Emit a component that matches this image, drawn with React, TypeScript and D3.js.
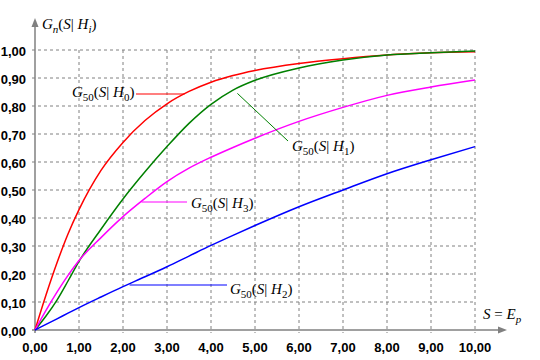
import React from "react";
import * as d3 from "d3";

const sValues = [0, 0.25, 0.5, 0.75, 1, 1.5, 2, 2.5, 3, 3.5, 4, 4.5, 5, 6, 7, 8, 9, 10];
const gH0 = [0, 0.125, 0.24, 0.343, 0.43, 0.57, 0.67, 0.748, 0.808, 0.852, 0.885, 0.909, 0.927, 0.952, 0.969, 0.982, 0.99, 0.994];
const gH1 = [0, 0.05, 0.107, 0.175, 0.245, 0.36, 0.468, 0.565, 0.655, 0.738, 0.806, 0.857, 0.892, 0.936, 0.964, 0.982, 0.99, 0.996];
const gH3 = [0, 0.07, 0.135, 0.195, 0.248, 0.33, 0.405, 0.47, 0.53, 0.578, 0.617, 0.652, 0.685, 0.745, 0.795, 0.838, 0.868, 0.893];
const gH2 = [0, 0.02, 0.04, 0.06, 0.08, 0.118, 0.155, 0.19, 0.226, 0.264, 0.302, 0.338, 0.373, 0.44, 0.5, 0.558, 0.608, 0.655];

const xTicks = [0, 1, 2, 3, 4, 5, 6, 7, 8, 9, 10];
const yTicks = [0, 0.1, 0.2, 0.3, 0.4, 0.5, 0.6, 0.7, 0.8, 0.9, 1.0];
const fmt = (v: number) => v.toFixed(2).replace(".", ",");

const series = [
  { name: "H0", sub: "0", values: gH0, color: "#ff0000" },
  { name: "H1", sub: "1", values: gH1, color: "#008000" },
  { name: "H3", sub: "3", values: gH3, color: "#ff00ff" },
  { name: "H2", sub: "2", values: gH2, color: "#0000ff" },
];

const x = d3.scaleLinear().domain([0, 10]).range([35, 475]);
const y = d3.scaleLinear().domain([0, 1]).range([330, 50]);

const serif = "'Liberation Serif', 'Times New Roman', serif";
const sans = "'Liberation Sans', Arial, sans-serif";

function Label({ lx, ly, sub }: { lx: number; ly: number; sub: string }) {
  return (
    <text x={lx} y={ly} fontFamily={serif} fontSize={15} fill="#000">
      <tspan fontStyle="italic">G</tspan>
      <tspan fontSize={11} dy={4}>50</tspan>
      <tspan dy={-4}>(</tspan>
      <tspan fontStyle="italic">S</tspan>
      <tspan>| </tspan>
      <tspan fontStyle="italic">H</tspan>
      <tspan fontSize={11} dy={4}>{sub}</tspan>
      <tspan dy={-4}>)</tspan>
    </text>
  );
}

export default function App() {
  const line = d3
    .line<number>()
    .x((_, i) => x(sValues[i]))
    .y((d) => y(d))
    .curve(d3.curveMonotoneX);

  const grey = "#808080";
  return (
    <svg width={540} height={360} style={{ position: "absolute", left: 0, top: 0, background: "#fff" }}>
      <rect width={540} height={360} fill="#fff" />
      {/* grid */}
      {xTicks.slice(1).map((t) => (
        <line key={"gx" + t} x1={x(t)} x2={x(t)} y1={y(1)} y2={333} stroke={grey} strokeDasharray="3,3" />
      ))}
      {yTicks.slice(1).map((t) => (
        <line key={"gy" + t} x1={32} x2={x(10)} y1={y(t)} y2={y(t)} stroke={grey} strokeDasharray="3,3" />
      ))}
      {/* axes */}
      <line x1={x(0)} x2={x(0)} y1={333} y2={24} stroke={grey} strokeWidth={1.5} />
      <path d={`M${x(0)},18 L${x(0) - 3.5},27 L${x(0) + 3.5},27 Z`} fill={grey} />
      <line x1={32} x2={500} y1={y(0)} y2={y(0)} stroke={grey} strokeWidth={1.5} />
      <path d={`M507,${y(0)} L498,${y(0) - 3.5} L498,${y(0) + 3.5} Z`} fill={grey} />
      {/* tick labels */}
      {yTicks.map((t) => (
        <text key={"ty" + t} x={26} y={y(t) + 6} textAnchor="end" fontFamily={sans} fontWeight="bold" fontSize={13}>
          {fmt(t)}
        </text>
      ))}
      {xTicks.map((t) => (
        <text key={"tx" + t} x={x(t)} y={352} textAnchor="middle" fontFamily={sans} fontWeight="bold" fontSize={13}>
          {fmt(t)}
        </text>
      ))}
      {/* series */}
      {series.map((s) => (
        <path key={s.name} d={line(s.values) || ""} fill="none" stroke={s.color} strokeWidth={1.5} />
      ))}
      {/* leaders */}
      <line x1={136} x2={x(3.4)} y1={94} y2={94} stroke="#ff0000" strokeWidth={1.2} />
      <line x1={x(4.6)} x2={288} y1={y(0.845)} y2={141} stroke="#008000" strokeWidth={1} />
      <line x1={x(2.42)} x2={187} y1={202} y2={202} stroke="#ff00ff" strokeWidth={1.2} />
      <line x1={x(2.15)} x2={227} y1={285} y2={285} stroke="#0000ff" strokeWidth={1.2} />
      <Label lx={72} ly={97} sub="0" />
      <Label lx={292} ly={151} sub="1" />
      <Label lx={191} ly={208} sub="3" />
      <Label lx={230} ly={294} sub="2" />
      {/* axis titles */}
      <text x={42} y={29} fontFamily={serif} fontSize={15}>
        <tspan fontStyle="italic">G</tspan>
        <tspan fontStyle="italic" fontSize={11} dy={4}>n</tspan>
        <tspan dy={-4}>(</tspan>
        <tspan fontStyle="italic">S</tspan>
        <tspan>| </tspan>
        <tspan fontStyle="italic">H</tspan>
        <tspan fontStyle="italic" fontSize={11} dy={4}>i</tspan>
        <tspan dy={-4}>)</tspan>
      </text>
      <text x={483} y={319} fontFamily={serif} fontSize={15}>
        <tspan fontStyle="italic">S</tspan>
        <tspan> = </tspan>
        <tspan fontStyle="italic">E</tspan>
        <tspan fontStyle="italic" fontSize={11} dy={4}>p</tspan>
      </text>
    </svg>
  );
}
